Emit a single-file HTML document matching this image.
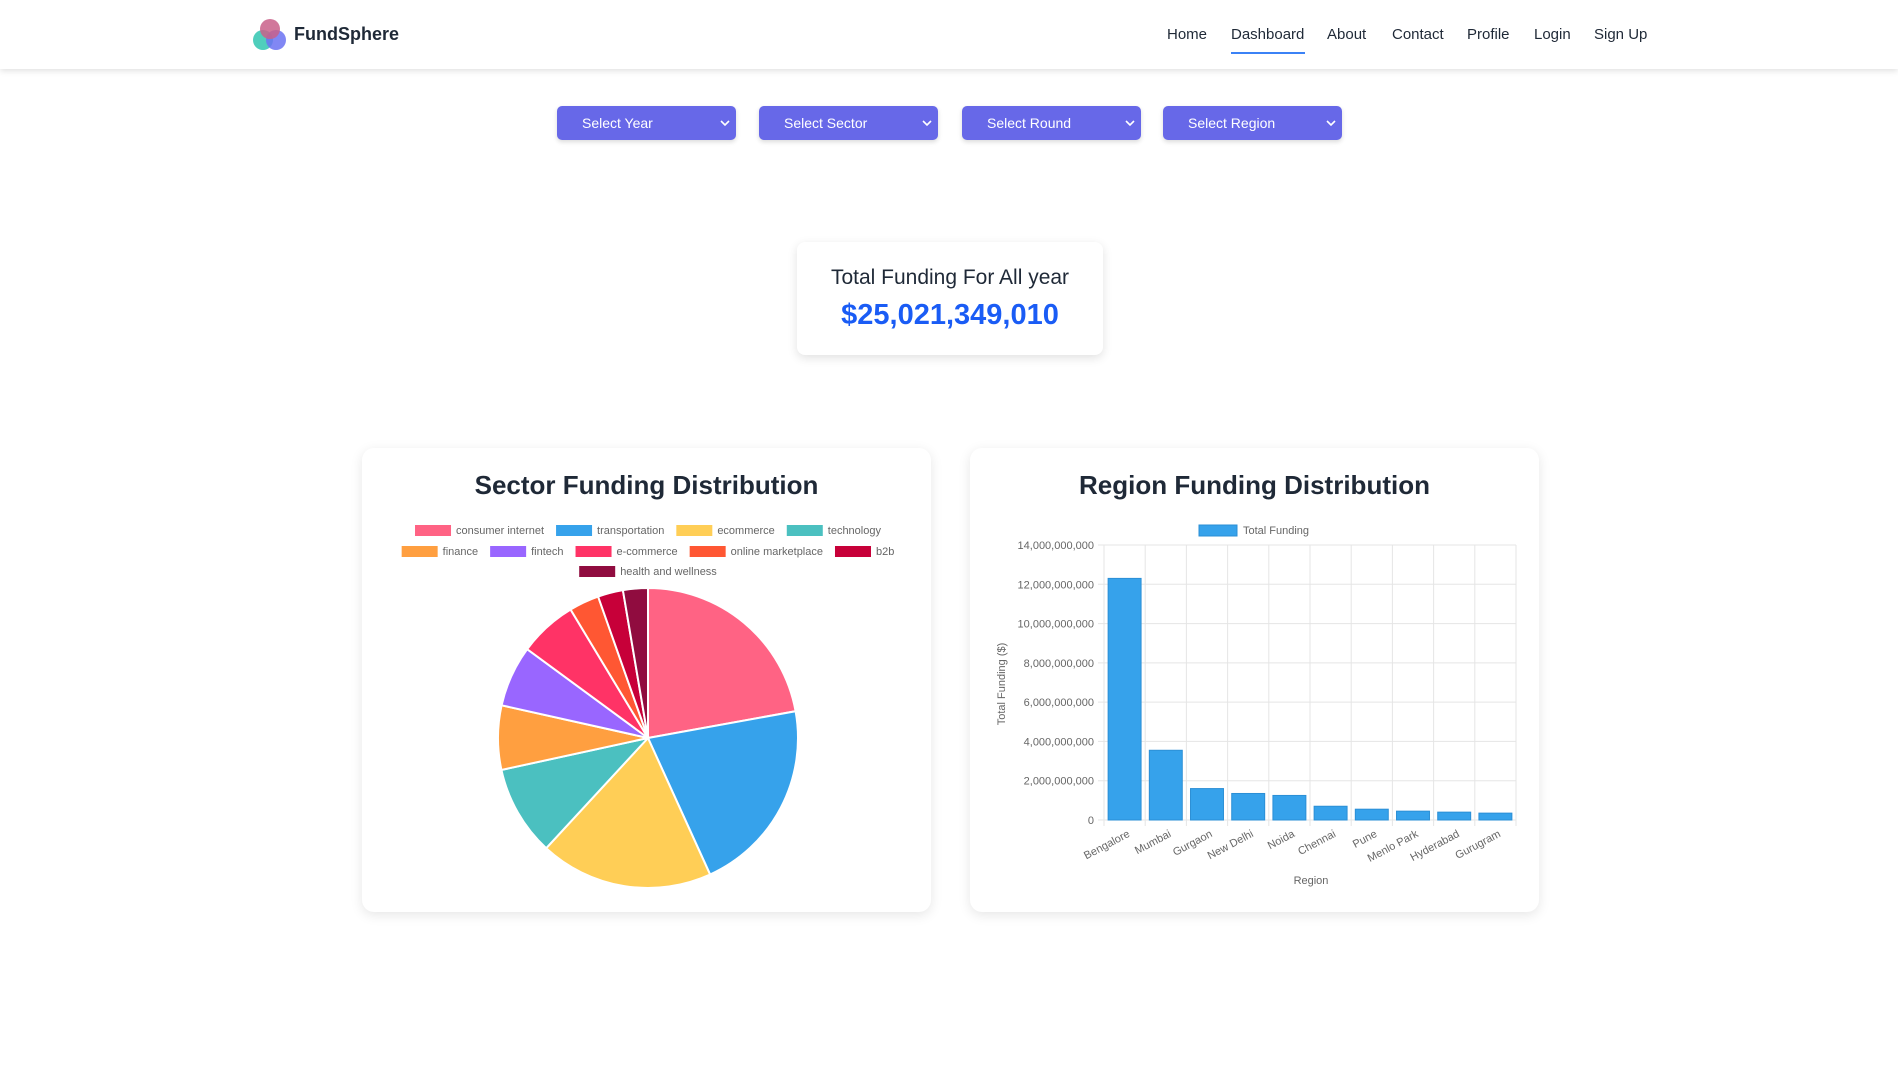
<!DOCTYPE html>
<html><head><meta charset="utf-8">
<style>
*{box-sizing:border-box;margin:0;padding:0}
body{width:1898px;height:1080px;background:#fff;font-family:"Liberation Sans","DejaVu Sans",sans-serif;position:relative;overflow:hidden;color:#1f2937}
.nav{position:absolute;left:0;top:0;width:1898px;height:69px;background:#fff;box-shadow:0 2px 6px rgba(0,0,0,.12)}
.brand{position:absolute;left:294px;top:24px;font-size:18px;font-weight:bold;color:#1f2937}
.nav a{position:absolute;top:26px;font-size:15px;color:#1f2937;text-decoration:none}
.sel{position:absolute;top:106px;width:179px;height:34px;background:#6768e8;border-radius:5px;color:#fff;font-size:14px;padding:9px 0 0 25px;box-shadow:0 2px 5px rgba(0,0,0,.15)}
.sel svg.ch{position:absolute;left:auto;right:6px;top:13px}
.total{position:absolute;left:797px;top:242px;width:306px;height:113px;background:#fff;border-radius:8px;box-shadow:0 3px 10px rgba(0,0,0,.12);text-align:center}
.total .t{font-size:21px;margin-top:24px;color:#1f2937}
.total .v{font-size:29px;font-weight:bold;color:#1a5cf5;margin-top:9px}
.card{position:absolute;top:448px;width:569px;height:464px;background:#fff;border-radius:12px;box-shadow:0 3px 12px rgba(0,0,0,.1)}
.card h2{position:absolute;top:22px;width:100%;text-align:center;font-size:26px;font-weight:bold;color:#1f2937}
svg{position:absolute;left:0;top:0}
</style></head><body>
<div class="nav">
<svg width="36" height="34" style="left:252px;top:18px"><circle cx="11" cy="22" r="10" fill="#3cc9b5" opacity=".9"/><circle cx="24" cy="22" r="10" fill="#6b72f2" opacity=".85"/><circle cx="18" cy="11" r="10" fill="#c9608a" opacity=".85"/></svg>
<div class="brand">FundSphere</div>
<a style="left:1167px">Home</a>
<a style="left:1231px">Dashboard</a>
<div style="position:absolute;left:1231px;top:52px;width:74px;height:2px;background:#3b82f6"></div>
<a style="left:1327px">About</a>
<a style="left:1392px">Contact</a>
<a style="left:1467px">Profile</a>
<a style="left:1534px">Login</a>
<a style="left:1594px">Sign Up</a>
</div>
<div class="sel" style="left:557px">Select Year<svg class="ch" width="10" height="8"><path d="M1 2L5 6L9 2" stroke="#fff" stroke-width="1.6" fill="none"/></svg></div>
<div class="sel" style="left:759px">Select Sector<svg class="ch" width="10" height="8"><path d="M1 2L5 6L9 2" stroke="#fff" stroke-width="1.6" fill="none"/></svg></div>
<div class="sel" style="left:962px">Select Round<svg class="ch" width="10" height="8"><path d="M1 2L5 6L9 2" stroke="#fff" stroke-width="1.6" fill="none"/></svg></div>
<div class="sel" style="left:1163px">Select Region<svg class="ch" width="10" height="8"><path d="M1 2L5 6L9 2" stroke="#fff" stroke-width="1.6" fill="none"/></svg></div>
<div class="total">
<div class="t">Total Funding For All year</div>
<div class="v">$25,021,349,010</div>
</div>
<div class="card" style="left:362px"><h2>Sector Funding Distribution</h2></div>
<div class="card" style="left:970px"><h2>Region Funding Distribution</h2></div>
<svg id="chart" width="1898" height="1080"></svg>
<script>
const sectors=["consumer internet","transportation","ecommerce","technology","finance","fintech","e-commerce","online marketplace","b2b","health and wellness"];
const sectorValues=[5.54,5.27,4.67,2.43,1.73,1.65,1.57,0.81,0.68,0.67];
const sectorColors=["#ff6384","#36a2eb","#ffce56","#4bc0c0","#ff9f40","#9966ff","#ff3366","#ff5733","#c70039","#900c3f"];
const regions=["Bengalore","Mumbai","Gurgaon","New Delhi","Noida","Chennai","Pune","Menlo Park","Hyderabad","Gurugram"];
const regionValues=[12.3e9,3.55e9,1.6e9,1.35e9,1.25e9,0.7e9,0.55e9,0.45e9,0.4e9,0.35e9];
const yTicks=[0,2e9,4e9,6e9,8e9,10e9,12e9,14e9];
const NS="http://www.w3.org/2000/svg";
const svg=document.getElementById('chart');
function mk(t,a,txt){const e=document.createElementNS(NS,t);for(const k in a)e.setAttribute(k,a[k]);if(txt!==undefined)e.textContent=txt;svg.appendChild(e);return e;}
const rows=[[0,1,2,3],[4,5,6,7,8],[9]],rowY=[530,551,571];
const ctx=document.createElement('canvas').getContext('2d');ctx.font='11px "Liberation Sans"';
rows.forEach((r,ri)=>{let w=0;r.forEach(i=>w+=36+5+ctx.measureText(sectors[i]).width+12);w-=12;let x=648-w/2;
r.forEach(i=>{const b=mk('rect',{x:x,y:rowY[ri]-5,width:36,height:11,fill:sectorColors[i]});

const t=mk('text',{x:x+41,y:rowY[ri]+4,'font-size':11,fill:'#666'},sectors[i]);

x+=36+5+ctx.measureText(sectors[i]).width+12;});});
const cx=648,cy=738,R=150;const tot=sectorValues.reduce((a,b)=>a+b,0);let a0=-Math.PI/2;
sectorValues.forEach((v,i)=>{const a1=a0+v/tot*2*Math.PI;const lg=(a1-a0)>Math.PI?1:0;
const p=mk('path',{d:`M${cx},${cy}L${cx+R*Math.cos(a0)},${cy+R*Math.sin(a0)}A${R},${R} 0 ${lg} 1 ${cx+R*Math.cos(a1)},${cy+R*Math.sin(a1)}Z`,fill:sectorColors[i],stroke:'#fff','stroke-width':2});
a0=a1;});
const px0=1104,px1=1516,py0=820,py1=545,ymax=14e9;
const ys=v=>py0-(v/ymax)*(py0-py1);const bw=(px1-px0)/regions.length;
yTicks.forEach(t=>{const g=mk('line',{x1:px0-6,x2:px1,y1:ys(t),y2:ys(t),stroke:'#e5e5e5'});
const l=mk('text',{x:px0-10,y:ys(t)+4,'text-anchor':'end','font-size':11,fill:'#666'},t.toLocaleString('en-US'));});
for(let i=0;i<=regions.length;i++){const g=mk('line',{x1:px0+i*bw,x2:px0+i*bw,y1:py1,y2:py0+6,stroke:'#e5e5e5'});}
regions.forEach((r,i)=>{const x=px0+i*bw+bw*0.1,v=regionValues[i];
const b=mk('rect',{x:x,y:ys(v),width:bw*0.8,height:py0-ys(v),fill:'#36a2eb',stroke:'#2b8fd6','stroke-width':1});

const cxl=px0+i*bw+bw/2+6;const t=mk('text',{x:cxl,y:py0+16,'text-anchor':'end','font-size':11,fill:'#666',transform:`rotate(-28 ${cxl} ${py0+16})`},r);
});
const yt=mk('text',{x:1005,y:684,'text-anchor':'middle','font-size':11,fill:'#666',transform:'rotate(-90 1005 684)'},'Total Funding ($)');
const xt=mk('text',{x:1311,y:884,'text-anchor':'middle','font-size':11,fill:'#666'},'Region');
const lb=mk('rect',{x:1199,y:525,width:38,height:11,fill:'#36a2eb',stroke:'#2b8fd6'});
const lt=mk('text',{x:1243,y:534,'font-size':11,fill:'#666'},'Total Funding');
</script>
</body></html>
